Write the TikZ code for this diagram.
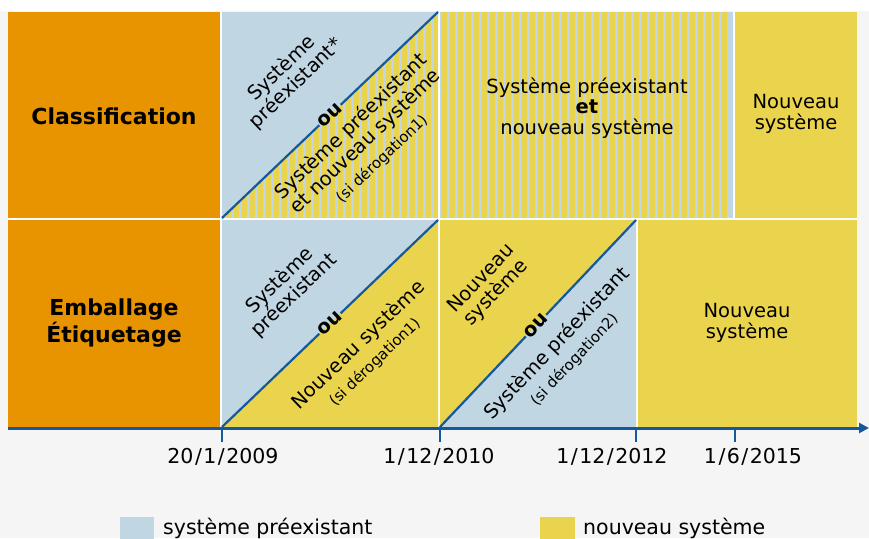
\documentclass[tikz,border=0pt]{standalone}
\usepackage{fontspec}
\setmainfont{DejaVu Sans}
\usetikzlibrary{arrows.meta}
\definecolor{orangecell}{HTML}{E89300}
\definecolor{bluecell}{HTML}{C1D6E3}
\definecolor{yellowcell}{HTML}{EBD44D}
\definecolor{lineblue}{HTML}{15599C}
\definecolor{bggrey}{HTML}{F5F5F5}
\newcommand{\petit}{\fontsize{15}{16}\selectfont}
\newcommand{\sep}{\kern1.5pt/\kern1.5pt}
\tikzset{>={Triangle[length=10pt,width=10pt]}}

\begin{document}
\begin{tikzpicture}[x=1pt, y=-1pt,
    txt/.style={font=\fontsize{19.5}{20.5}\selectfont, align=center, inner sep=0pt},
    ou/.style={font=\fontsize{19.5}{20}\selectfont\bfseries, inner sep=1pt},
    head/.style={font=\fontsize{22}{27}\selectfont\bfseries, align=center},
    date/.style={font=\fontsize{20.5}{22}\selectfont, anchor=base, inner sep=0pt},
    legend/.style={font=\fontsize{20.5}{22}\selectfont, anchor=base west, inner sep=0pt},
    diag/.style={lineblue, line width=2.2pt},
    axis/.style={->, lineblue, line width=3pt},
    tick/.style={lineblue, line width=2pt}]
    \useasboundingbox (0,0) rectangle (869,538);
    \clip (0,0) rectangle (869,538);
    \fill[bggrey] (0,0) rectangle (869,538);
    \fill[white] (0,0) rectangle (869,11);
    \fill[white] (8,12) rectangle (857,427);
    % row labels
    \fill[orangecell] (8,12) rectangle (220,218);
    \fill[orangecell] (8,220) rectangle (220,427);
    % top row
    \fill[bluecell] (222,12) rectangle (438,218);
    \begin{scope}
    \clip (222,218) -- (438,12) -- (438,218) -- cycle;
    \foreach \x in {218,226,...,434}
    \fill[yellowcell] (\x,12) rectangle ++(5,206);
    \end{scope}
    \fill[bluecell] (440,12) rectangle (733,218);
    \foreach \x in {442,450,...,722}
    \fill[yellowcell] (\x,12) rectangle ++(5,206);
    \fill[yellowcell] (735,12) rectangle (857,218);
    % bottom row
    \fill[bluecell] (222,220) rectangle (438,427);
    \fill[yellowcell] (222,427) -- (438,220) -- (438,427) -- cycle;
    \fill[yellowcell] (440,220) rectangle (636,427);
    \fill[bluecell] (440,427) -- (636,220) -- (636,427) -- cycle;
    \fill[yellowcell] (638,220) rectangle (857,427);

    \node[head] (cls) at (114,116) {Classification};
    \node[head] (emb) at (114,323) {Emballage\\Étiquetage};

    \coordinate (a1) at (222,218);
    \coordinate (b1) at (438,12);
    \coordinate (a2) at (222,427);
    \coordinate (b2) at (438,220);
    \coordinate (a3) at (440,427);
    \coordinate (b3) at (636,220);

    \node[ou, rotate=43.6] (ou1) at (330,115) {ou};
    \node[txt, rotate=43.6] (pre1) at (289,76) {Système\\préexistant*};
    \node[txt, rotate=43.6] (mix1) at (366,142) {Système préexistant\\et nouveau système\\[2pt]{\petit (si dérogation1)}};
    \draw[diag] (a1) -- (ou1.west);
    \draw[diag] (ou1.east) -- (b1);

    \node[ou, rotate=43.8] (ou2) at (330,323.5) {ou};
    \node[txt, rotate=43.8] (pre2) at (287,288) {Système\\préexistant};
    \node[txt, rotate=43.8] (new2) at (366,353) {Nouveau système\\[2pt]{\petit (si dérogation1)}};
    \draw[diag] (a2) -- (ou2.west);
    \draw[diag] (ou2.east) -- (b2);

    \node[ou, rotate=46.6] (ou3) at (536,325.6) {ou};
    \node[txt, rotate=46.6] (new3) at (489,286) {Nouveau\\système};
    \node[txt, rotate=46.6] (pre3) at (565,351) {Système préexistant\\[2pt]{\petit (si dérogation2)}};
    \draw[diag] (a3) -- (ou3.west);
    \draw[diag] (ou3.east) -- (b3);

    \node[txt] (mix) at (587,108) {Système préexistant\\\textbf{et}\\nouveau système};
    \node[txt] (new4) at (796,114) {Nouveau\\système};
    \node[txt] (new5) at (747,323) {Nouveau\\système};

    % time axis
    \coordinate (ax0) at (8,428);
    \coordinate (ax1) at (869,428);
    \draw[axis] (ax0) -- (ax1);
    \foreach \x/\lx/\dd/\mm/\yy in {222/223/20/1/2009, 440/439/1/12/2010, 636/612/1/12/2012, 735/753/1/6/2015} {
    \coordinate (t\yy) at (\x,428);
    \draw[tick] (t\yy) -- ++(0,14);
    \node[date] (d\yy) at (\lx,463) {\dd\sep\mm\sep\yy};
    }

    % legend
    \fill[bluecell] (120,517) rectangle (154,540);
    \node[legend] (lg1) at (163,534) {système préexistant};
    \fill[yellowcell] (540,517) rectangle (575,540);
    \node[legend] (lg2) at (583,534) {nouveau système};
\end{tikzpicture}
\end{document}
